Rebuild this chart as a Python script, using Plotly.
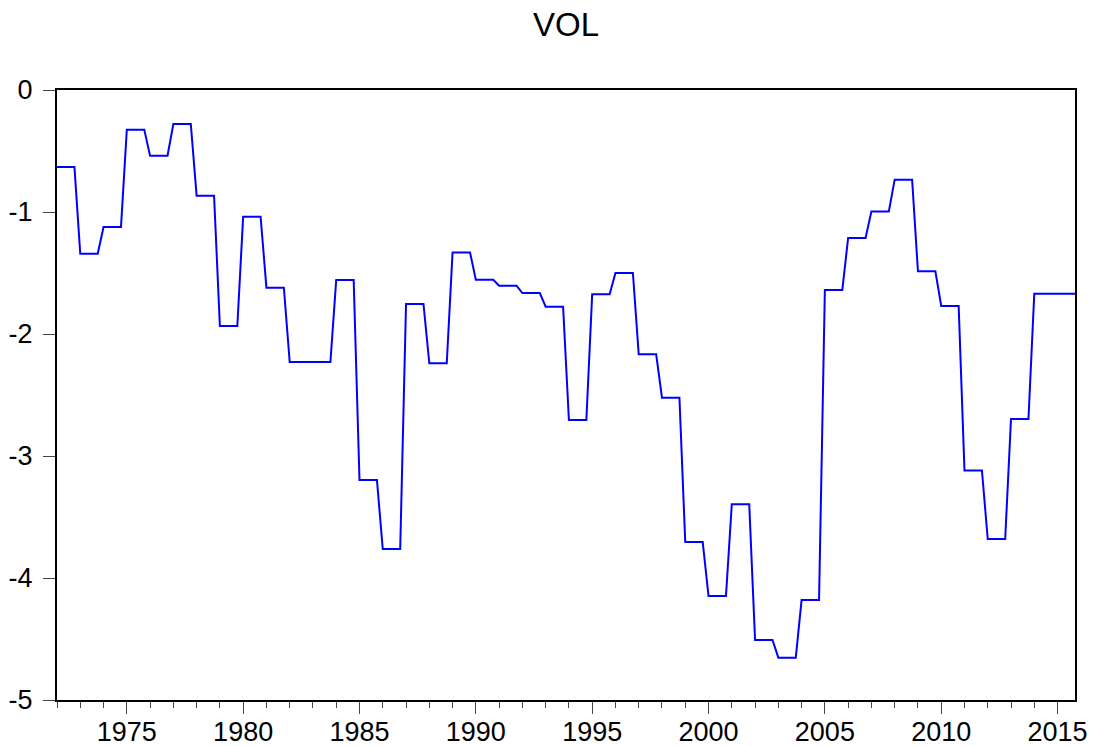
import numpy as np
import plotly.graph_objects as go

# Annual values (each held for the four quarters of the year)
years = list(range(1972, 2016))
vol_annual = [
    -0.631, -1.342, -1.123, -0.325, -0.538, -0.279, -0.866, -1.934, -1.038, -1.620,
    -2.230, -2.230, -1.557, -3.197, -3.762, -1.754, -2.240, -1.331, -1.555, -1.604,
    -1.664, -1.776, -2.705, -1.675, -1.500, -2.167, -2.522, -3.705, -4.148, -3.396,
    -4.508, -4.653, -4.180, -1.639, -1.213, -0.995, -0.735, -1.486, -1.770, -3.118,
    -3.680, -2.697, -1.670, -1.670,
]
quarters = [0.0, 0.25, 0.5, 0.75]

y_tickvals = [0, -1, -2, -3, -4, -5]
y_ticktext = ["0", "-1", "-2", "-3", "-4", "-5"]
x_tickvals = [1975, 1980, 1985, 1990, 1995, 2000, 2005, 2010, 2015]
x_ticktext = [str(v) for v in x_tickvals]

# quarterly series
x_q = [y + q for y in years for q in quarters]
y_q = [v for v in vol_annual for _ in quarters]

fig = go.Figure()
fig.add_trace(go.Scatter(x=x_q, y=y_q, mode="lines",
                         line=dict(color="#0000FF", width=2), showlegend=False))

font_family = "Liberation Sans, Arial, sans-serif"
fig.update_layout(
    template="none",
    width=1096, height=746,
    margin=dict(l=57, r=21, t=90, b=46, pad=0),
    paper_bgcolor="white", plot_bgcolor="white",
    title=dict(text="VOL", x=0.5, xanchor="center", xref="paper",
               y=1 - 24 / 746, yanchor="middle",
               font=dict(family=font_family, size=33, color="black")),
    font=dict(family=font_family, size=27, color="black"),
)
fig.update_xaxes(
    automargin=False,
    range=[1972, 2015.75], showgrid=False, zeroline=False,
    showline=True, linecolor="black", linewidth=2, mirror=True,
    tickmode="array", tickvals=x_tickvals, ticktext=x_ticktext,
    ticks="outside", ticklen=12, tickwidth=1, tickcolor="#444444",
    ticklabelstandoff=-5,
    tickfont=dict(family=font_family, size=27, color="black"),
    minor=dict(tickmode="linear", tick0=1972, dtick=1, ticks="outside",
               ticklen=6, tickwidth=1, tickcolor="#444444", showgrid=False),
)
fig.update_yaxes(
    automargin=False,
    range=[-5, 0], showgrid=False, zeroline=False,
    showline=True, linecolor="black", linewidth=2, mirror=True,
    tickmode="array", tickvals=y_tickvals, ticktext=y_ticktext,
    ticks="outside", ticklen=12, tickwidth=1, tickcolor="#444444",
    ticklabelstandoff=5,
    tickfont=dict(family=font_family, size=27, color="black"),
)

fig.write_html("out.html", config={"displayModeBar": False},
               post_script="document.body.style.margin='0px';")
